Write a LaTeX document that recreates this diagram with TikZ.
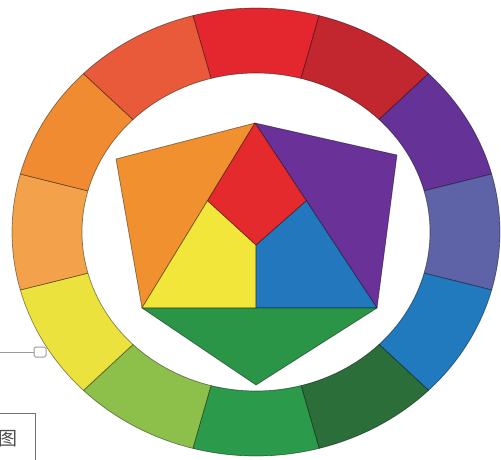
\documentclass[tikz,border=0pt]{standalone}
\usepackage{fontspec}
\newfontfamily\cjk{Noto Sans CJK SC}
\usepackage{xcolor}
\usepackage{tikz}
\usetikzlibrary{calc}
% ring colours
\definecolor{wRed}{HTML}{E4262F}
\definecolor{wCrimson}{HTML}{C2262F}
\definecolor{wPurple}{HTML}{653398}
\definecolor{wViolet}{HTML}{5E63A8}
\definecolor{wBlue}{HTML}{2179BE}
\definecolor{wDkGreen}{HTML}{2B6E3A}
\definecolor{wGreen}{HTML}{2B9A4B}
\definecolor{wLime}{HTML}{8DC04B}
\definecolor{wYellow}{HTML}{EBE23D}
\definecolor{wAmber}{HTML}{F3A24B}
\definecolor{wOrange}{HTML}{F08B31}
\definecolor{wVermil}{HTML}{E85A3A}
% centre colours
\definecolor{hOrange}{HTML}{F0902F}
\definecolor{hRed}{HTML}{E42A2D}
\definecolor{hPurple}{HTML}{6A3199}
\definecolor{hYellow}{HTML}{F2E63A}
\definecolor{hBlue}{HTML}{2277BD}
\definecolor{hGreen}{HTML}{2A9547}

\begin{document}
\begin{tikzpicture}[x=1pt, y=1pt, seg/.style={draw=black, draw opacity=0.45, line width=0.7pt, line join=round}]
\tikzstyle{part} = [draw=black, draw opacity=0.45, line width=0.7pt, line join=round]
\useasboundingbox (0,0) rectangle (501,459);
\fill[white] (0,0) rectangle (501,459);

% twelve part ring
\begin{scope}[shift={(256,227)}]
\foreach \a/\col in {90/wRed, 60/wCrimson, 30/wPurple, 0/wViolet, -30/wBlue, -60/wDkGreen,
  -90/wGreen, -120/wLime, -150/wYellow, 180/wAmber, 150/wOrange, 120/wVermil} {
  \filldraw[seg, fill=\col] ({\a+15}:244pt and 224pt)
    arc[start angle=\a+15, end angle=\a-15, x radius=244pt, y radius=224pt]
    -- ({\a-15}:174pt and 159pt)
    arc[start angle=\a-15, end angle=\a+15, x radius=174pt, y radius=159pt] -- cycle;
}
\end{scope}

% centre figure
\coordinate (top) at (255,336);
\coordinate (ul) at (116,300);
\coordinate (ur) at (397,304);
\coordinate (lft) at (142,151);
\coordinate (rgt) at (377,151);
\coordinate (bot) at (256,74);
\coordinate (redl) at ($(top)!0.42!(lft)$);
\coordinate (redr) at ($(top)!0.42!(rgt)$);
\coordinate (redb) at (256,214);
\coordinate (base) at (redb |- lft);
\filldraw[part, fill=hOrange] (top) -- (ul) -- (lft) -- cycle;
\filldraw[part, fill=hPurple] (top) -- (ur) -- (rgt) -- cycle;
\filldraw[part, fill=hYellow] (redl) -- (redb) -- (base) -- (lft) -- cycle;
\filldraw[part, fill=hBlue] (redb) -- (redr) -- (rgt) -- (base) -- cycle;
\filldraw[part, fill=hRed] (top) -- (redl) -- (redb) -- (redr) -- cycle;
\filldraw[part, fill=hGreen] (lft) -- (rgt) -- (bot) -- cycle;

% marker and caption box
\node (tag) [draw=gray!80, fill=white, rounded corners=1.5pt, minimum width=12pt, minimum height=10pt, inner sep=0pt, line width=1pt] at (40,107) {};
\coordinate (lead) at (0,107);
\draw[gray!80, line width=0.8pt] (lead) -- (tag);
\node (legend) [draw=gray!90!black, line width=1pt, anchor=north east, inner xsep=18pt, minimum height=50pt, text=black!70, font=\cjk\fontsize{19pt}{19pt}\selectfont] at (36,46) {图};
\end{tikzpicture}
\end{document}
